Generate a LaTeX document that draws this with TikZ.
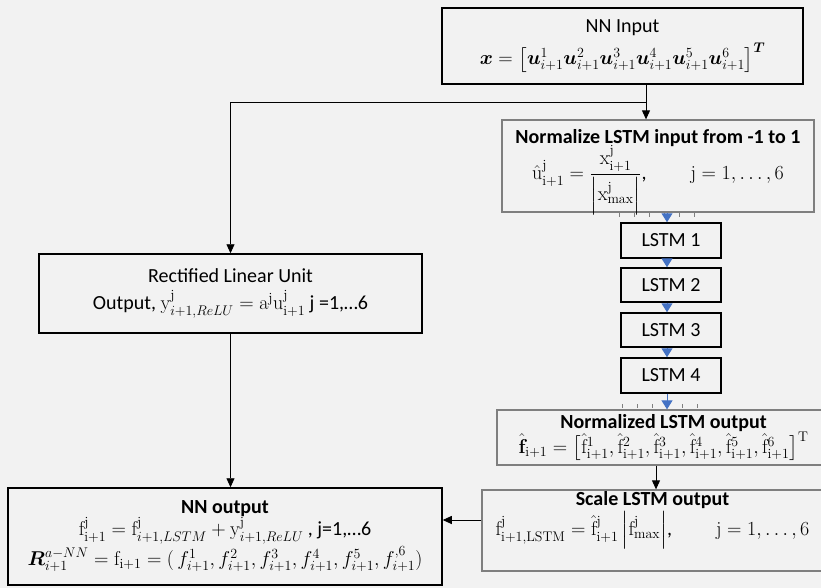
\RequirePackage{fix-cm}
\documentclass[tikz,border=0pt]{standalone}
\usepackage{amsmath,bm}
\usepackage{fontspec}
\setmainfont{Carlito}
\setmathrm{Latin Modern Roman}
\usetikzlibrary{arrows.meta,calc}
\definecolor{bg}{HTML}{F2F2F2}
\definecolor{boxgray}{HTML}{7F7F7F}
\definecolor{arrblue}{HTML}{4472C4}
\begin{document}
\begin{tikzpicture}[x=1pt,y=-1pt, font=\fontsize{20}{25}\selectfont,
 blk/.style={draw=black, line width=1.5pt, fill=bg, inner sep=0pt, align=center},
 gry/.style={draw=boxgray, line width=1.3pt, fill=bg, inner sep=0pt, align=center},
 txt/.style={align=center, inner sep=0pt, anchor=north},
 conn/.style={line width=0.9pt, -{Triangle[width=8pt,length=9pt]}},
 bconn/.style={draw=arrblue, line width=1pt, -{Triangle[width=11pt,length=9pt]}},
 tickmark/.style={draw=boxgray, line width=0.6pt}]
\fill[bg] (0,0) rectangle (821,588);
\useasboundingbox (0,0) rectangle (821,588);

\node[blk, minimum width=361pt, minimum height=76pt] (inp) at (622.5,46)
 {NN Input\\[7pt] $\bm{x} = \bigl[\bm{u}^{1}_{i+1}\bm{u}^{2}_{i+1}\bm{u}^{3}_{i+1}\bm{u}^{4}_{i+1}\bm{u}^{5}_{i+1}\bm{u}^{6}_{i+1}\bigr]^{\bm{T}}$};

\node[gry, minimum width=312pt, minimum height=92pt] (norm) at (658,166) {};
\node[txt] (normtxt) at ($(norm.north)+(0,10)$)
 {\textbf{Normalize LSTM input from -1 to 1}\\[-2pt]
  $\hat{\mathrm{u}}^{\mathrm{j}}_{\mathrm{i+1}} = \dfrac{\mathrm{x}^{\mathrm{j}}_{\mathrm{i+1}}}{\left|\mathrm{x}^{\mathrm{j}}_{\mathrm{max}}\right|}$,\hspace{2.2em}$\mathrm{j} = 1, \ldots, 6$};

\node[blk, minimum width=100pt, minimum height=35pt] (l1) at (671,240.5) {LSTM 1};
\node[blk, minimum width=100pt, minimum height=34pt] (l2) at (671,285) {LSTM 2};
\node[blk, minimum width=100pt, minimum height=34pt] (l3) at (671,330) {LSTM 3};
\node[blk, minimum width=100pt, minimum height=35pt] (l4) at (671,375.5) {LSTM 4};

\node[gry, minimum width=333pt, minimum height=55pt] (nout) at (663.5,437.5)
 {\textbf{Normalized LSTM output}\\[0pt]
  $\hat{\mathbf{f}}_{\mathrm{i+1}} = \bigl[\hat{\mathrm{f}}^{1}_{\mathrm{i+1}}, \hat{\mathrm{f}}^{2}_{\mathrm{i+1}}, \hat{\mathrm{f}}^{3}_{\mathrm{i+1}}, \hat{\mathrm{f}}^{4}_{\mathrm{i+1}}, \hat{\mathrm{f}}^{5}_{\mathrm{i+1}}, \hat{\mathrm{f}}^{6}_{\mathrm{i+1}}\bigr]^{\mathrm{T}}$};

\node[gry, minimum width=341pt, minimum height=81pt] (scale) at (652.5,530.5) {};
\node[txt] (scaletxt) at ($(scale.north)+(0,2)$)
 {\textbf{Scale LSTM output}\\[2pt]
  $\mathrm{f}^{\mathrm{j}}_{\mathrm{i+1,LSTM}} = \hat{\mathrm{f}}^{\mathrm{j}}_{\mathrm{i+1}}\left|\mathrm{f}^{\mathrm{j}}_{\mathrm{max}}\right|$,\hspace{2.2em}$\mathrm{j} = 1, \ldots, 6$};

\node[blk, minimum width=383pt, minimum height=79pt] (relu) at (230.5,293.5)
 {Rectified Linear Unit\\[2pt]
  Output, $\mathrm{y}^{\mathrm{j}}_{i+1,ReLU} = \mathrm{a}^{\mathrm{j}}\mathrm{u}^{\mathrm{j}}_{\mathrm{i+1}}$ j =1,\textellipsis 6};

\node[blk, minimum width=434pt, minimum height=97pt] (out) at (225,536.5)
 {\textbf{NN output}\\[-3pt]
  $\mathrm{f}^{\mathrm{j}}_{\mathrm{i+1}} = \mathrm{f}^{\mathrm{j}}_{i+1,LSTM} + \mathrm{y}^{\mathrm{j}}_{i+1,ReLU}$ , j=1,\textellipsis 6\\[1pt]
  $\bm{R}^{a-NN}_{i+1} = \mathrm{f}_{\mathrm{i+1}} = (\,f^{1}_{i+1}, f^{2}_{i+1}, f^{3}_{i+1}, f^{4}_{i+1}, f^{5}_{i+1}, f^{,6}_{i+1})$};

% black connectors
\coordinate (j) at (646,102);
\draw[conn] (j |- inp.south) -- (j |- norm.north);
\draw[conn] (j) -- (j -| relu.north) -- (relu.north);
\draw[conn] (relu.south) -- (relu.south |- out.north);
\coordinate (k) at (656,0);
\draw[conn] (k |- nout.south) -- (k |- scale.north);
\coordinate (m) at (0,520);
\draw[conn] (m -| scale.west) -- (m -| out.east);

% tick marks
\foreach \tx in {619,634,649,664,679,694} \draw[tickmark] (\tx,213) -- (\tx,217);
\foreach \tx in {622,637,652,667,682,697} \draw[tickmark] (\tx,404) -- (\tx,408);

% blue connectors
\coordinate (ax) at (667,0);
\draw[bconn] (ax |- norm.south) -- (ax |- l1.north);
\draw[bconn] (ax |- l1.south) -- (ax |- l2.north);
\draw[bconn] (ax |- l2.south) -- (ax |- l3.north);
\draw[bconn] (ax |- l3.south) -- (ax |- l4.north);
\draw[bconn] (ax |- l4.south) -- (ax |- nout.north);
\end{tikzpicture}
\end{document}
